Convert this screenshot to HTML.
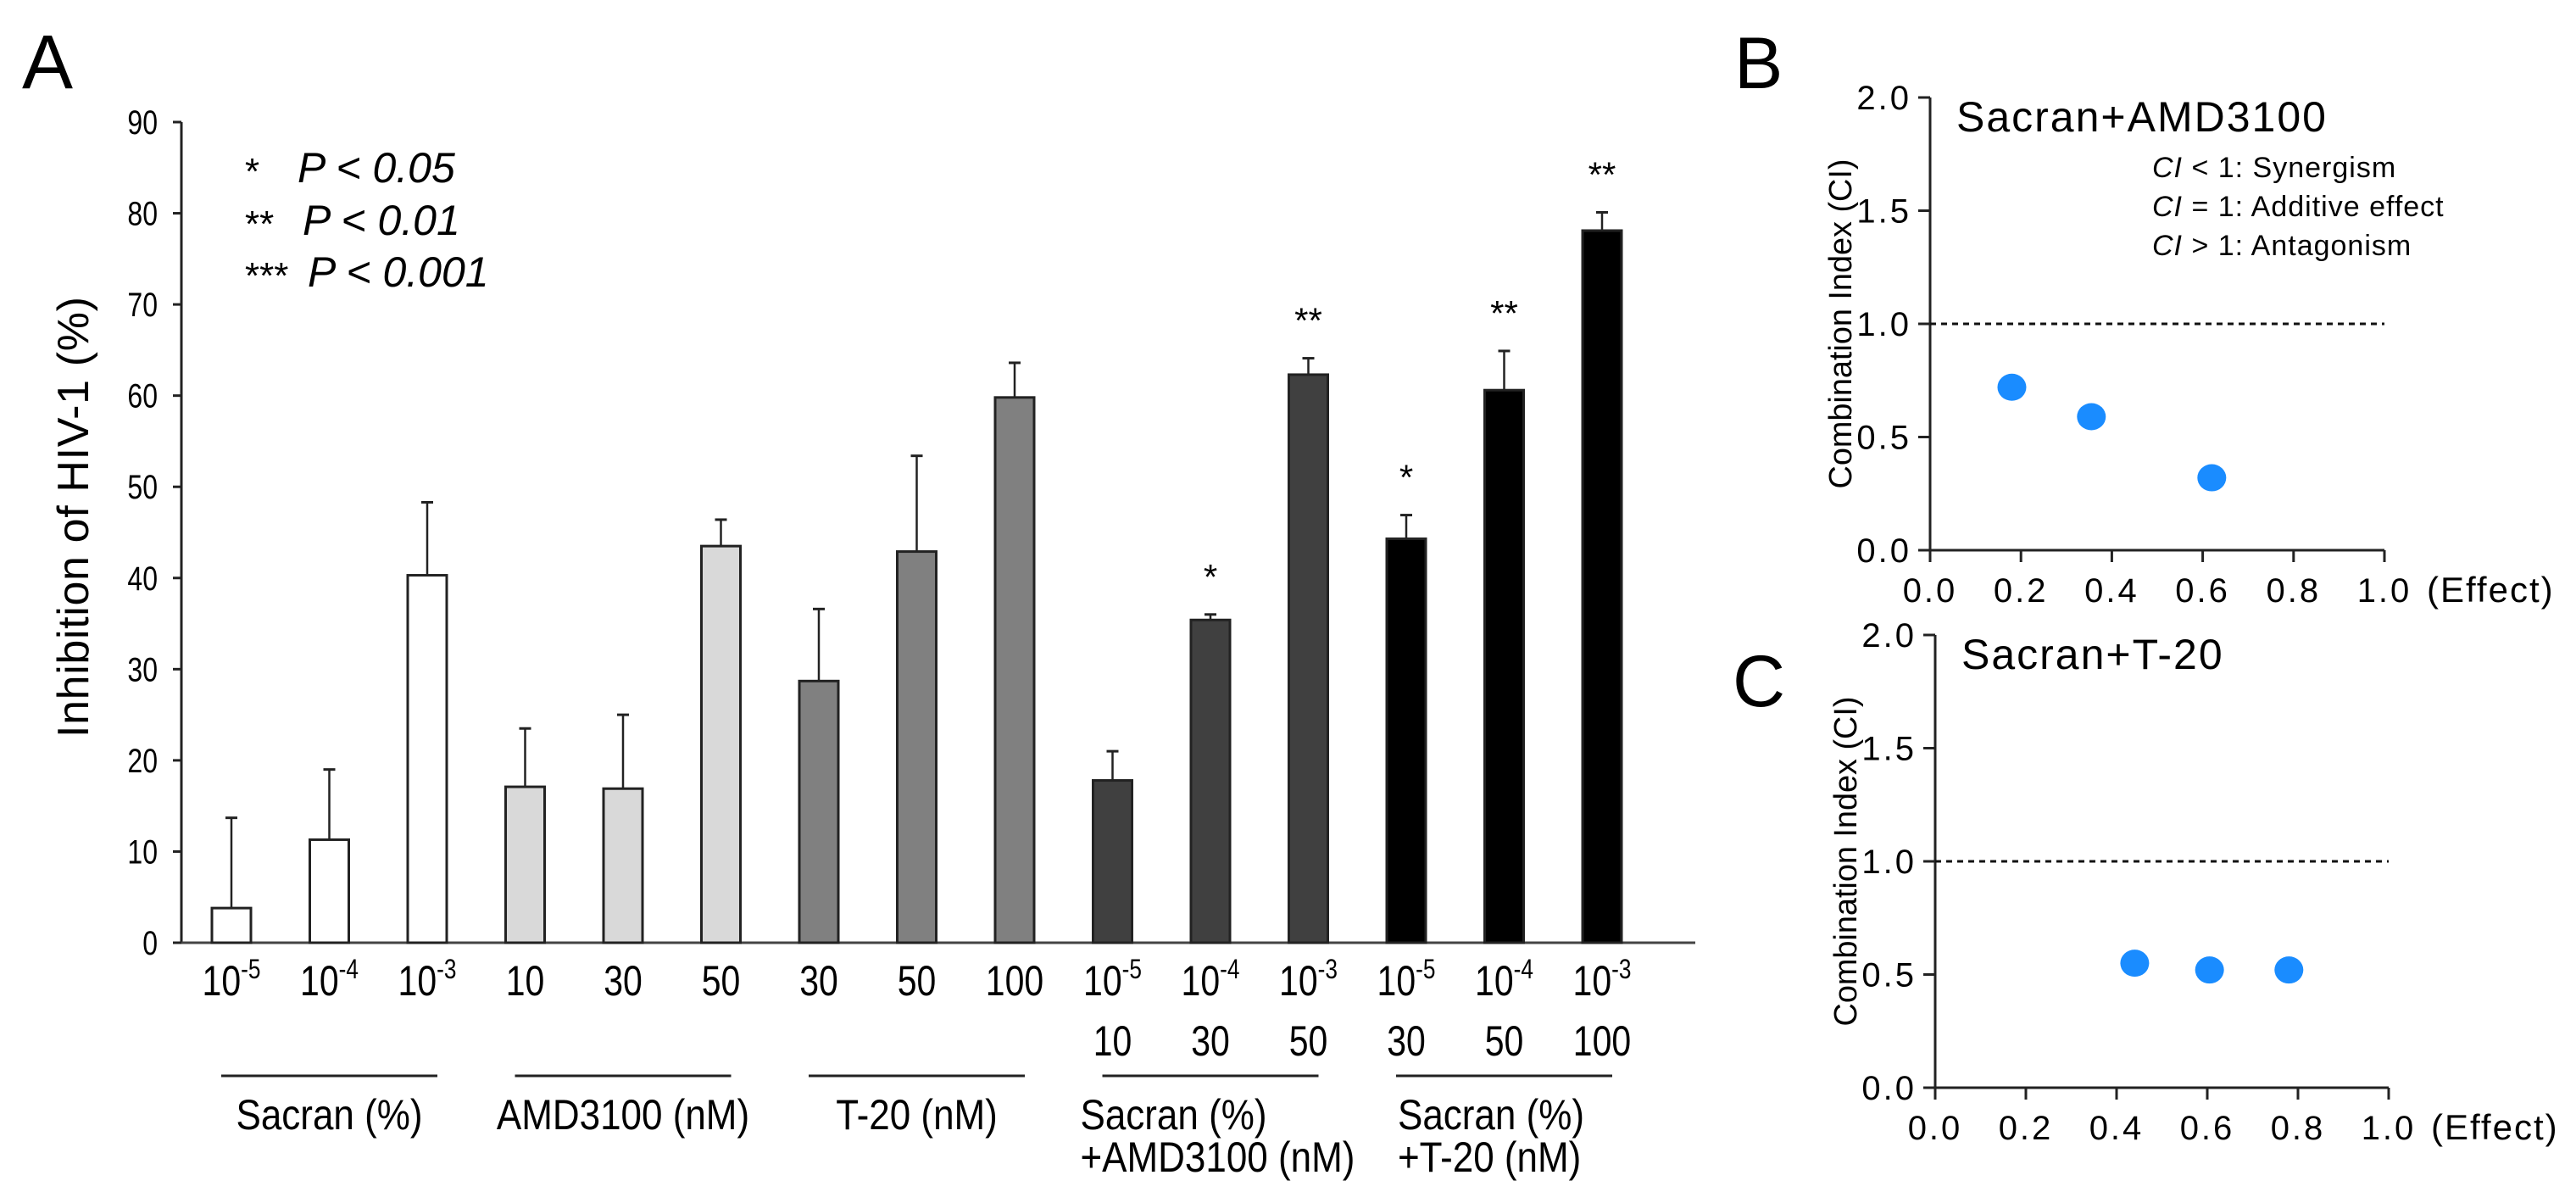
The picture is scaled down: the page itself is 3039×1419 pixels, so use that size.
<!DOCTYPE html>
<html><head><meta charset="utf-8"><style>
html,body{margin:0;padding:0;background:#fff;}
svg{display:block;font-family:"Liberation Sans",sans-serif;}
</style></head><body>
<svg id="fig" width="3039" height="1419" viewBox="0 0 3039 1419">
<text x="26" y="104" font-size="90">A</text>
<text x="2046" y="104" font-size="86">B</text>
<text x="2044" y="833" font-size="86">C</text>
<g id="chartA"></g>
<g id="chartB"></g>
<g id="chartC"></g>
</svg>
<script>
const categories=["10^-5","10^-4","10^-3","10","30","50","30","50","100","10^-5","10^-4","10^-3","10^-5","10^-4","10^-3"];
const secondRow=["","","","","","","","","","10","30","50","30","50","100"];
const inhibition=[3.8,11.3,40.3,17.1,16.9,43.5,28.7,42.9,59.8,17.8,35.4,62.3,44.3,60.6,78.1];
const errorTop=[13.7,19.0,48.3,23.5,25.0,46.4,36.6,53.4,63.6,21.0,36.0,64.1,46.9,64.9,80.1];
const stars=["","","","","","","","","","","*","**","*","**","**"];
const groupIdx=[0,0,0,1,1,1,2,2,2,3,3,3,4,4,4];
const yTicks=[0,10,20,30,40,50,60,70,80,90];
const groupNames=[["Sacran (%)"],["AMD3100 (nM)"],["T-20 (nM)"],["Sacran (%)","+AMD3100 (nM)"],["Sacran (%)","+T-20 (nM)"]];
const ciB_effect=[0.18,0.355,0.62];
const ciB_value=[0.72,0.59,0.32];
const ciC_effect=[0.44,0.605,0.78];
const ciC_value=[0.55,0.52,0.52];
const ciTicks=[0,0.5,1.0,1.5,2.0];
const effTicks=[0,0.2,0.4,0.6,0.8,1.0];

const NS="http://www.w3.org/2000/svg";
function mk(p,tag,attrs,txt){const e=document.createElementNS(NS,tag);for(const k in attrs)e.setAttribute(k,attrs[k]);if(txt!==undefined)e.textContent=txt;p.appendChild(e);return e;}

// Panel A
const A=document.getElementById('chartA');
const ax0=214, ay0=1112, ay90=144;
const yA=v=>ay0-(v/90)*(ay0-ay90);
const xA=i=>273+i*115.5;
const fills=["#ffffff","#d9d9d9","#808080","#404040","#000000"];
let e;
e=mk(A,'line',{x1:ax0,y1:ay90,x2:ax0,y2:ay0,stroke:'#222','stroke-width':3});


e=mk(A,'line',{x1:ax0-10,y1:ay0,x2:2000,y2:ay0,stroke:'#444','stroke-width':3});


yTicks.forEach(t=>{
  mk(A,'line',{x1:ax0-10,y1:yA(t),x2:ax0,y2:yA(t),stroke:'#222','stroke-width':3});
  e=mk(A,'text',{x:0,y:0,'font-size':40,'text-anchor':'end',transform:`translate(186,${yA(t)+14}) scale(0.8,1)`},String(t));
  
  
});
e=mk(A,'text',{x:0,y:0,'font-size':52,'text-anchor':'middle',textLength:520,lengthAdjust:'spacing',transform:'translate(104,610) rotate(-90)'},'Inhibition of HIV-1 (%)');


function labelText(parent,x,y,s,name){
  const t=mk(parent,'text',{x:0,y:0,'font-size':50,'text-anchor':'middle',transform:`translate(${x},${y}) scale(0.82,1)`});
  if(s.includes('^')){const [b,p]=s.split('^');mk(t,'tspan',{},b);mk(t,'tspan',{dy:-20,'font-size':32},p);}
  else t.textContent=s;
  
  
}
inhibition.forEach((v,i)=>{
  const cx=xA(i),w=46;
  e=mk(A,'line',{x1:cx,y1:yA(errorTop[i]),x2:cx,y2:yA(v),stroke:'#222','stroke-width':2.5});
  
  
  mk(A,'line',{x1:cx-7,y1:yA(errorTop[i]),x2:cx+7,y2:yA(errorTop[i]),stroke:'#222','stroke-width':3});
  e=mk(A,'rect',{x:cx-w/2,y:yA(v),width:w,height:ay0-yA(v),fill:fills[groupIdx[i]],stroke:'#222','stroke-width':3});
  
  
  if(stars[i]){e=mk(A,'text',{x:cx,y:yA(errorTop[i])-30,'font-size':42,'text-anchor':'middle'},stars[i]);
    
    }
  labelText(A,cx,1174,categories[i],'x-tick-label');
  if(secondRow[i])labelText(A,cx,1245,secondRow[i],'x-tick-label-2');
});
for(let g=0;g<5;g++){
  const idx=[0,1,2].map(k=>g*3+k);
  const x1=xA(idx[0])-12,x2=xA(idx[2])+12;
  mk(A,'line',{x1:x1,y1:1269,x2:x2,y2:1269,stroke:'#222','stroke-width':3});
  const names=groupNames[g];
  if(names.length===1){
    e=mk(A,'text',{x:0,y:0,'font-size':50,'text-anchor':'middle',transform:`translate(${(x1+x2)/2},1332) scale(0.88,1)`},names[0]);
  } else {
    const lx = g===3 ? x1-26 : x1+2;
    e=mk(A,'text',{x:0,y:0,'font-size':50,transform:`translate(${lx},1332) scale(0.88,1)`});
    mk(e,'tspan',{x:0,y:0},names[0]);mk(e,'tspan',{x:0,y:50},names[1]);
  }
  
  
}
// legend
[["*","P < 0.05",215,351],["**","P < 0.01",277,357],["***","P < 0.001",338,363]].forEach(r=>{
  mk(A,'text',{x:289,y:r[2]+2,'font-size':44},r[0]);
  e=mk(A,'text',{x:r[3],y:r[2],'font-size':50,'font-style':'italic'},r[1]);
  
  
});

// Panels B & C
function ciPanel(G,x0,x1,y0,y2,title,eff,val,legend){
  const X=v=>x0+v*(x1-x0), Y=v=>y0-(v/2)*(y0-y2);
  mk(G,'line',{x1:x0,y1:y2,x2:x0,y2:y0+14,stroke:'#222','stroke-width':3});
  mk(G,'line',{x1:x0-14,y1:y0,x2:x1,y2:y0,stroke:'#222','stroke-width':3});
  ciTicks.forEach(t=>{mk(G,'line',{x1:x0-14,y1:Y(t),x2:x0,y2:Y(t),stroke:'#222','stroke-width':3});
    e=mk(G,'text',{x:x0-22,y:Y(t)+14,'font-size':40,'text-anchor':'end','letter-spacing':3},t.toFixed(1));
    
    });
  effTicks.forEach(t=>{mk(G,'line',{x1:X(t),y1:y0,x2:X(t),y2:y0+14,stroke:'#222','stroke-width':3});
    e=mk(G,'text',{x:X(t),y:y0+61,'font-size':40,'text-anchor':'middle','letter-spacing':3},t.toFixed(1));
    
    });
  mk(G,'text',{x:x1+50,y:y0+61,'font-size':42,'letter-spacing':2},'(Effect)');
  e=mk(G,'line',{x1:x0,y1:Y(1),x2:x1,y2:Y(1),stroke:'#111','stroke-width':3,'stroke-dasharray':'7,6'});
  
  
  e=mk(G,'text',{x:0,y:0,'font-size':38,'text-anchor':'middle',textLength:389,lengthAdjust:'spacingAndGlyphs',transform:`translate(${x0-93},${(y0+y2)/2}) rotate(-90)`},'Combination Index  (CI)');
  
  
  e=mk(G,'text',{x:x0+31,y:y2+40,'font-size':50,'letter-spacing':2},title);
  
  
  if(legend){legend.forEach((l,i)=>{const t=mk(G,'text',{x:2539,y:209+i*46,'font-size':34,'letter-spacing':1});
    mk(t,'tspan',{'font-style':'italic'},'CI');mk(t,'tspan',{},l);
    
    });}
  eff.forEach((v,i)=>{e=mk(G,'ellipse',{cx:X(v),cy:Y(val[i]),rx:17,ry:16,fill:'#1a8cff'});
    
    });
}
ciPanel(document.getElementById('chartB'),2277,2813,649,115,'Sacran+AMD3100',ciB_effect,ciB_value,[' < 1: Synergism',' = 1: Additive effect',' > 1: Antagonism']);
ciPanel(document.getElementById('chartC'),2283,2818,1283,749,'Sacran+T-20',ciC_effect,ciC_value,null);
</script>
</body></html>
